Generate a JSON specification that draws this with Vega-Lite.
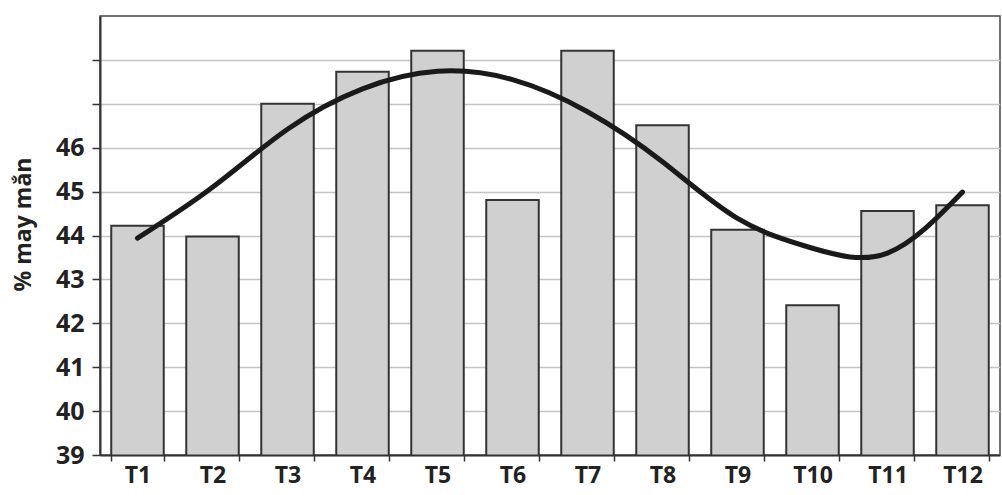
{
  "$schema": "https://vega.github.io/schema/vega-lite/v6.json",
  "width": 900,
  "height": 439,
  "autosize": {"type": "none"},
  "padding": {"left": 100, "top": 16, "right": 2, "bottom": 40},
  "background": "white",
  "config": {
    "view": {"stroke": "#444", "strokeWidth": 1.5},
    "font": "Open Sans"
  },
  "data": {
    "values": [
      {"thang": "T1", "pct": 44.22, "trend": 43.94},
      {"thang": "T2", "pct": 43.98, "trend": 45.1},
      {"thang": "T3", "pct": 47.0, "trend": 46.42},
      {"thang": "T4", "pct": 47.73, "trend": 47.34},
      {"thang": "T5", "pct": 48.21, "trend": 47.74},
      {"thang": "T6", "pct": 44.81, "trend": 47.55},
      {"thang": "T7", "pct": 48.21, "trend": 46.82},
      {"thang": "T8", "pct": 46.51, "trend": 45.68},
      {"thang": "T9", "pct": 44.13, "trend": 44.39},
      {"thang": "T10", "pct": 42.41, "trend": 43.71},
      {"thang": "T11", "pct": 44.56, "trend": 43.6},
      {"thang": "T12", "pct": 44.69, "trend": 44.99}
    ]
  },
  "encoding": {
    "x": {
      "field": "thang",
      "type": "nominal",
      "sort": null,
      "scale": {"paddingInner": 0.3, "paddingOuter": 0.15},
      "axis": {
        "title": null,
        "labelAngle": 0,
        "labelFont": "Open Sans",
        "labelFontWeight": "bold",
        "labelFontSize": 23,
        "labelColor": "#222",
        "labelPadding": 3,
        "tickBand": "extent",
        "tickSize": 6,
        "tickColor": "#333",
        "tickWidth": 1.5,
        "domainColor": "#333",
        "domainWidth": 2,
        "grid": false,
        "zindex": 1
      }
    }
  },
  "layer": [
    {
      "mark": {"type": "bar", "fill": "#d0d0d0", "stroke": "#333", "strokeWidth": 2, "clip": true},
      "encoding": {
        "y": {
          "field": "pct",
          "type": "quantitative",
          "scale": {"domain": [39, 49], "nice": false, "zero": false},
          "axis": {
            "title": "% may mắn",
            "titleFont": "Open Sans",
            "titleFontWeight": "bold",
            "titleFontSize": 23,
            "titleColor": "#222",
            "titlePadding": 20,
            "titleY": 208,
            "values": [39, 40, 41, 42, 43, 44, 45, 46, 47, 48],
            "labelExpr": "datum.value <= 46 ? datum.label : ''",
            "labelFont": "Open Sans",
            "labelFontWeight": "bold",
            "labelFontSize": 25,
            "labelColor": "#222",
            "labelPadding": 8,
            "tickSize": 8,
            "tickColor": "#333",
            "tickWidth": 1.5,
            "domainColor": "#333",
            "domainWidth": 2,
            "grid": true,
            "gridColor": "#c4c4c4",
            "gridWidth": 1.5
          }
        }
      }
    },
    {
      "mark": {"type": "line", "interpolate": "natural", "color": "#1a1a1a", "strokeWidth": 5, "strokeCap": "round"},
      "encoding": {
        "y": {"field": "trend", "type": "quantitative"}
      }
    }
  ]
}
